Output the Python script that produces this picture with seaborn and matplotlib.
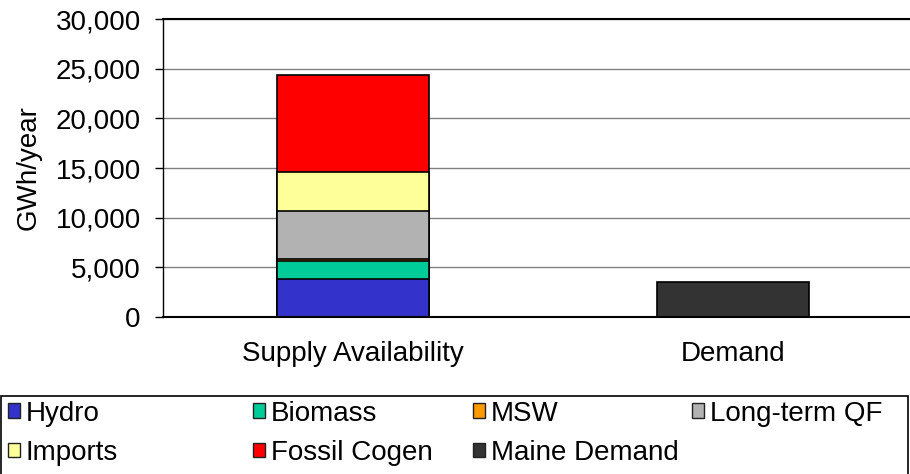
import numpy as np
import pandas as pd
import matplotlib
matplotlib.use("Agg")
import matplotlib.pyplot as plt
from matplotlib.patches import Patch, Rectangle
import seaborn as sns

sns.set_theme(style="white")
plt.rcParams['font.family'] = ['Liberation Sans', 'DejaVu Sans']
plt.rcParams.update({"text.color": "black", "axes.labelcolor": "black",
                     "xtick.color": "black", "ytick.color": "black"})

# data (GWh/year)
categories = ["Supply Availability", "Demand"]
supply_sources = ["Hydro", "Biomass", "MSW", "Long-term QF", "Imports", "Fossil Cogen"]
supply_values = [3870, 1750, 230, 4780, 3990, 9750]
demand_label = "Maine Demand"
demand_value = 3530
colors = {"Hydro": "#3333CC", "Biomass": "#00CC99", "MSW": "#FF9900",
          "Long-term QF": "#B2B2B2", "Imports": "#FFFF99",
          "Fossil Cogen": "#FF0000", "Maine Demand": "#333333"}
yticks = [0, 5000, 10000, 15000, 20000, 25000, 30000]

fig = plt.figure(figsize=(9.1, 4.74), dpi=100)
ax = fig.add_axes([163 / 910, 157 / 474, 760 / 910, 298 / 474])

# stacked bars: draw cumulative totals from the top down so each covers the one above
cum = np.cumsum(supply_values)
for src, top in reversed(list(zip(supply_sources, cum))):
    df = pd.DataFrame({"cat": [categories[0]], "val": [top]})
    sns.barplot(data=df, x="cat", y="val", order=categories, color=colors[src],
                saturation=1, width=0.4, edgecolor="black", linewidth=1.2, ax=ax)
df = pd.DataFrame({"cat": [categories[1]], "val": [demand_value]})
sns.barplot(data=df, x="cat", y="val", order=categories, color=colors[demand_label],
            saturation=1, width=0.4, edgecolor="black", linewidth=1.2, ax=ax)

ax.set_xlim(-0.5, 1.5)
ax.set_ylim(0, 30000)
ax.set_yticks(yticks)
ax.set_yticklabels([f"{v:,}" for v in yticks], fontsize=20)
ax.set_xticks([0, 1])
ax.set_xticklabels(categories, fontsize=20)
ax.set_xticks([-0.5, 0.5, 1.5], minor=True)
ax.tick_params(axis="x", which="major", length=0, pad=17)
ax.tick_params(axis="x", which="minor", length=6, width=1, color="black", direction="out")
ax.tick_params(axis="y", length=6, width=1, color="black", direction="out", pad=10, left=True)
ax.set_xlabel("")
ax.set_ylabel("GWh/year", fontsize=20, labelpad=10)
ax.yaxis.grid(True, color="#808080", linewidth=1)
ax.set_axisbelow(True)
for s in ["left", "bottom", "top"]:
    ax.spines[s].set_visible(True)
    ax.spines[s].set_color("black")
ax.spines["left"].set_linewidth(1)
ax.spines["bottom"].set_linewidth(1.5)
ax.spines["top"].set_linewidth(1.5)
ax.spines["right"].set_visible(False)

# legend box spanning the figure width
fig.patches.append(Rectangle((1 / 910, -0.05), 907 / 910, 0.05 + 78 / 474,
                             transform=fig.transFigure, fill=False,
                             edgecolor="black", linewidth=1.2))

legend_rows = [["Hydro", "Biomass", "MSW", "Long-term QF"],
               ["Imports", "Fossil Cogen", "Maine Demand"]]
col_x = [2, 247, 467, 686]
for j, x0 in enumerate(col_x):
    labels = [row[j] for row in legend_rows if j < len(row)]
    handles = [Patch(facecolor=colors[l], edgecolor="#222222", linewidth=1) for l in labels]
    fig.legend(handles=handles, labels=labels, loc="upper left",
               bbox_to_anchor=(x0 / 910, 1 - 395 / 474), frameon=False,
               fontsize=20, handlelength=0.45, handleheight=0.45,
               handletextpad=0.2, labelspacing=0.48, borderpad=0.2,
               borderaxespad=0)

fig.savefig("out.png", dpi=100)
